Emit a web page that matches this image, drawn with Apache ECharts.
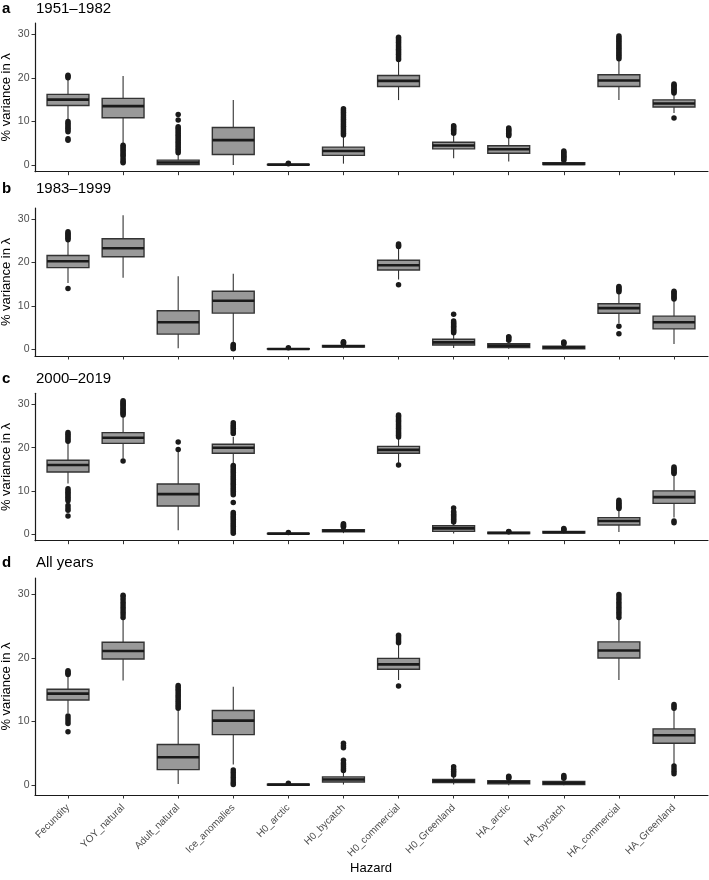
<!DOCTYPE html>
<html><head><meta charset="utf-8">
<script src="https://cdn.jsdelivr.net/npm/echarts@6/dist/echarts.min.js"></script>
<style>html,body{margin:0;padding:0;background:#fff}#c{width:709px;height:880px}</style>
</head><body><div id="c"></div>
<script>
// ---------- DATA ----------
const hazards = ['Fecundity','YOY_natural','Adult_natural','Ice_anomalies','H0_arctic','H0_bycatch','H0_commercial','H0_Greenland','HA_arctic','HA_bycatch','HA_commercial','HA_Greenland'];
const yTicks = [0, 10, 20, 30];
const panelLetters = ['a', 'b', 'c', 'd'];
const panelTitles = ['1951\u20131982', '1983\u20131999', '2000\u20132019', 'All years'];

// box statistics per hazard: [lower whisker, Q1, median, Q3, upper whisker]
const boxA = [
  [10.5, 13.65, 15.0, 16.2, 19.5],
  [4.9, 10.85, 13.5, 15.3, 20.4],
  [0.0, 0.1, 0.55, 1.1, 2.5],
  [0.0, 2.4, 5.7, 8.6, 14.9],
  [0.0, 0.03, 0.08, 0.13, 0.25],
  [0.3, 2.2, 3.2, 4.1, 6.5],
  [14.9, 18.0, 19.3, 20.55, 23.9],
  [1.55, 3.7, 4.45, 5.2, 7.0],
  [0.8, 2.7, 3.6, 4.4, 6.4],
  [0.0, 0.1, 0.25, 0.5, 1.0],
  [14.9, 18.0, 19.4, 20.7, 24.1],
  [11.95, 13.3, 14.1, 14.95, 16.2]
];
const outA = [
  [20.0, 20.3, 20.6, 10.0, 9.6, 9.2, 8.8, 8.4, 8.0, 7.6, 6.0, 5.7],
  [4.5, 4.2, 3.8, 3.4, 3.0, 2.6, 2.2, 1.8, 1.3, 0.8, 0.5],
  [2.8, 3.2, 3.6, 4.0, 4.4, 4.8, 5.2, 5.6, 6.0, 6.4, 6.8, 7.2, 7.6, 8.0, 8.4, 8.8, 10.3, 11.6],
  [],
  [0.3, 0.4],
  [6.9, 7.3, 7.7, 8.1, 8.5, 8.9, 9.3, 9.7, 10.1, 10.5, 10.9, 11.3, 11.7, 12.1, 12.5, 12.9],
  [24.2, 24.6, 25.0, 25.4, 25.8, 26.2, 26.6, 27.0, 27.4, 27.8, 28.2, 28.6, 29.0, 29.3],
  [7.3, 7.6, 7.9, 8.2, 8.5, 8.8, 9.0],
  [6.7, 7.0, 7.3, 7.6, 7.9, 8.2, 8.5],
  [1.1, 1.4, 1.7, 2.0, 2.3, 2.6, 2.9, 3.2],
  [24.4, 24.8, 25.2, 25.6, 26.0, 26.4, 26.8, 27.2, 27.6, 28.0, 28.4, 28.8, 29.2, 29.6],
  [16.5, 16.8, 17.1, 17.4, 17.7, 18.0, 18.3, 18.6, 10.8]
];

const boxB = [
  [15.3, 18.85, 20.3, 21.65, 24.8],
  [16.5, 21.35, 23.3, 25.5, 30.9],
  [0.25, 3.5, 6.25, 8.9, 16.85],
  [1.5, 8.35, 11.2, 13.4, 17.4],
  [0.0, 0.03, 0.08, 0.13, 0.25],
  [0.2, 0.5, 0.7, 0.9, 1.2],
  [16.1, 18.3, 19.4, 20.55, 23.4],
  [0.3, 1.0, 1.6, 2.3, 3.5],
  [0.1, 0.4, 0.85, 1.3, 1.9],
  [0.0, 0.1, 0.4, 0.7, 1.1],
  [6.0, 8.3, 9.5, 10.5, 13.0],
  [1.2, 4.7, 6.25, 7.65, 11.3]
];
const outB = [
  [25.3, 25.6, 25.9, 26.2, 26.5, 26.8, 27.1, 14.05],
  [],
  [],
  [1.1, 0.8, 0.5, 0.3, 0.1],
  [0.35],
  [1.3, 1.45, 1.6, 1.75],
  [23.7, 24.0, 24.3, 14.9],
  [3.8, 4.1, 4.4, 4.7, 5.0, 5.3, 5.6, 5.9, 6.2, 6.5, 8.1],
  [2.1, 2.4, 2.7, 2.9],
  [1.3, 1.5, 1.7],
  [13.3, 13.6, 13.9, 14.2, 14.5, 5.3, 3.6],
  [11.6, 11.9, 12.2, 12.5, 12.8, 13.1, 13.4]
];

const boxC = [
  [11.7, 14.35, 16.0, 17.1, 21.1],
  [17.5, 21.0, 22.3, 23.5, 27.3],
  [0.9, 6.5, 9.25, 11.6, 19.05],
  [16.3, 18.7, 20.0, 20.8, 22.5],
  [0.0, 0.03, 0.08, 0.13, 0.25],
  [0.2, 0.5, 0.75, 1.0, 1.4],
  [16.5, 18.7, 19.5, 20.3, 22.15],
  [0.1, 0.6, 1.3, 1.9, 2.6],
  [0.0, 0.1, 0.25, 0.4, 0.5],
  [0.0, 0.2, 0.4, 0.6, 0.8],
  [0.45, 2.1, 3.0, 3.8, 5.55],
  [3.8, 7.1, 8.55, 10.0, 13.65]
];
const outC = [
  [21.5, 21.9, 22.3, 22.7, 23.1, 23.5, 10.5, 10.1, 9.7, 9.3, 8.9, 8.5, 8.1, 7.7, 6.6, 6.0, 5.5, 4.2],
  [27.6, 27.9, 28.2, 28.5, 28.8, 29.1, 29.4, 29.7, 30.0, 30.3, 30.6, 30.9, 16.9],
  [19.6, 21.3],
  [23.3, 23.7, 24.1, 24.5, 24.9, 25.3, 25.8, 15.9, 15.5, 15.1, 14.7, 14.3, 13.9, 13.5, 13.1, 12.7, 12.3, 11.9, 11.5, 11.1, 10.7, 10.3, 9.9, 9.5, 9.1, 7.3, 5.0, 4.6, 4.2, 3.8, 3.4, 3.0, 2.6, 2.2, 1.8, 1.4, 1.0, 0.6, 0.2],
  [0.35],
  [1.6, 1.8, 2.0, 2.2, 2.4],
  [22.5, 22.9, 23.3, 23.7, 24.1, 24.5, 24.9, 25.3, 25.7, 26.1, 26.5, 26.9, 27.3, 27.6, 16.0],
  [2.8, 3.1, 3.4, 3.7, 4.0, 4.3, 4.6, 4.9, 5.2, 6.0],
  [0.55, 0.6],
  [0.9, 1.1, 1.3],
  [5.9, 6.2, 6.5, 6.8, 7.1, 7.4, 7.8],
  [14.0, 14.3, 14.6, 14.9, 15.2, 15.5, 3.0, 2.6]
];

const boxD = [
  [11.35, 13.4, 14.4, 15.1, 17.2],
  [16.45, 19.85, 21.1, 22.5, 26.0],
  [0.2, 2.45, 4.4, 6.4, 11.8],
  [3.25, 7.95, 10.15, 11.75, 15.5],
  [0.0, 0.03, 0.08, 0.13, 0.25],
  [0.1, 0.5, 0.9, 1.3, 2.1],
  [16.55, 18.25, 19.0, 19.95, 22.05],
  [0.1, 0.4, 0.65, 0.9, 1.4],
  [0.0, 0.2, 0.45, 0.7, 1.0],
  [0.0, 0.1, 0.35, 0.6, 1.0],
  [16.55, 20.0, 21.2, 22.55, 26.0],
  [3.25, 6.6, 7.85, 8.85, 11.85]
];
const outD = [
  [17.4, 17.6, 17.8, 18.0, 10.9, 10.5, 10.1, 9.7, 8.4],
  [26.4, 26.8, 27.2, 27.6, 28.0, 28.4, 28.8, 29.2, 29.6, 29.9],
  [12.1, 12.4, 12.7, 13.0, 13.3, 13.6, 13.9, 14.2, 14.5, 14.8, 15.1, 15.4, 15.7],
  [2.4, 2.0, 1.6, 1.2, 0.8, 0.4, 0.1],
  [0.3],
  [2.3, 2.6, 2.9, 3.2, 3.5, 3.9, 5.9, 6.2, 6.6],
  [22.4, 22.7, 23.0, 23.3, 23.6, 15.6],
  [1.6, 1.9, 2.2, 2.5, 2.9],
  [1.1, 1.25, 1.4],
  [1.1, 1.3, 1.5],
  [26.4, 26.8, 27.2, 27.6, 28.0, 28.4, 28.8, 29.2, 29.6, 30.0],
  [12.1, 12.4, 12.7, 3.0, 2.6, 2.2, 1.8]
];

const panelBoxes = [boxA, boxB, boxC, boxD];
const panelOutliers = [outA, outB, outC, outD];

// ---------- LAYOUT ----------
const FONT = '"Liberation Sans", Arial, Helvetica, sans-serif';
const Y_MIN = -1.55, Y_MAX = 32.6;
const panelTop = [23, 208, 393.3, 578];
const panelHeight = [148.7, 148, 147.4, 217];
const titleTop = [1, 181, 371, 555];
const AXIS_COL = '#1a1a1a';
const TXT_GREY = '#4d4d4d';

function renderBox(params, api) {
  const x = api.value(0);
  const lo = api.coord([x, api.value(1)]);
  const q1 = api.coord([x, api.value(2)]);
  const md = api.coord([x, api.value(3)]);
  const q3 = api.coord([x, api.value(4)]);
  const hi = api.coord([x, api.value(5)]);
  const bw = api.size([1, 0])[0] * 0.76;
  const cx = md[0];
  return {
    type: 'group',
    children: [
      { type: 'line', shape: { x1: cx, y1: hi[1], x2: cx, y2: q3[1] }, style: { stroke: '#333', lineWidth: 1.1 } },
      { type: 'line', shape: { x1: cx, y1: q1[1], x2: cx, y2: lo[1] }, style: { stroke: '#333', lineWidth: 1.1 } },
      { type: 'rect', shape: { x: cx - bw / 2, y: q3[1], width: bw, height: q1[1] - q3[1] }, style: { fill: '#999999', stroke: '#333', lineWidth: 1.4 } },
      { type: 'line', shape: { x1: cx - bw / 2, y1: md[1], x2: cx + bw / 2, y2: md[1] }, style: { stroke: '#1a1a1a', lineWidth: 2.6 } }
    ]
  };
}

const grids = [], xAxes = [], yAxes = [], series = [], titles = [];
for (let p = 0; p < 4; p++) {
  const last = p === 3;
  // decor grid (axis lines spanning ggplot's expanded range)
  grids.push({ left: 35, right: 1, top: panelTop[p], height: panelHeight[p], containLabel: false, outerBoundsMode: 'none' });
  // data grid
  grids.push({ left: 40.45, width: 661.1, top: panelTop[p], height: panelHeight[p], containLabel: false, outerBoundsMode: 'none' });
  const gD = 2 * p, gB = 2 * p + 1;
  xAxes.push({
    gridIndex: gD, type: 'value', min: 0, max: 1,
    axisLine: { show: true, onZero: false, lineStyle: { color: AXIS_COL, width: 1.2 } },
    axisTick: { show: false }, axisLabel: { show: false }, splitLine: { show: false }
  });
  yAxes.push({
    gridIndex: gD, type: 'value', min: Y_MIN, max: Y_MAX,
    axisLine: { show: true, onZero: false, lineStyle: { color: AXIS_COL, width: 1.2 } },
    axisTick: { show: true, length: 3.5, customValues: yTicks, lineStyle: { color: '#333', width: 1 } },
    axisLabel: { show: true, customValues: yTicks, margin: 5.5, fontSize: 10.5, color: TXT_GREY, fontFamily: FONT },
    splitLine: { show: false },
    name: '% variance in \u03bb', nameLocation: 'middle', nameGap: 22, nameRotate: 90, nameMoveOverlap: false,
    nameTextStyle: { fontSize: 13, color: '#000', fontFamily: FONT }
  });
  xAxes.push({
    gridIndex: gB, type: 'category', data: hazards, boundaryGap: true,
    axisLine: { show: false, onZero: false },
    axisTick: { show: true, alignWithLabel: true, length: 3.5, lineStyle: { color: '#333', width: 1 } },
    axisLabel: { show: last, interval: 0, rotate: 45, margin: 11, fontSize: 10, color: TXT_GREY, fontFamily: FONT },
    splitLine: { show: false },
    name: last ? 'Hazard' : '', nameLocation: 'middle', nameGap: 67, nameMoveOverlap: false,
    nameTextStyle: { fontSize: 13, color: '#000', fontFamily: FONT }
  });
  yAxes.push({ gridIndex: gB, type: 'value', min: Y_MIN, max: Y_MAX, show: false });

  series.push({
    type: 'custom', xAxisIndex: 2 * p + 1, yAxisIndex: 2 * p + 1,
    renderItem: renderBox,
    encode: { x: 0, y: [1, 2, 3, 4, 5] },
    data: panelBoxes[p].map((s, i) => [i].concat(s)),
    silent: true, z: 2
  });
  const pts = [];
  panelOutliers[p].forEach((arr, i) => arr.forEach(v => pts.push([i, v])));
  series.push({
    type: 'scatter', xAxisIndex: 2 * p + 1, yAxisIndex: 2 * p + 1,
    data: pts, symbol: 'circle', symbolSize: 5.5,
    itemStyle: { color: '#1a1a1a', opacity: 1 }, silent: true, z: 3
  });

  titles.push({ text: panelLetters[p], left: 2, top: titleTop[p], padding: 0,
    textStyle: { fontSize: 15, fontWeight: 'bold', color: '#000', fontFamily: FONT } });
  titles.push({ text: panelTitles[p], left: 36, top: titleTop[p], padding: 0,
    textStyle: { fontSize: 15, fontWeight: 'normal', color: '#000', fontFamily: FONT } });
}

const chart = echarts.init(document.getElementById('c'), null, { renderer: 'canvas' });
chart.setOption({
  animation: false,
  backgroundColor: '#ffffff',
  textStyle: { fontFamily: FONT },
  title: titles,
  grid: grids,
  xAxis: xAxes,
  yAxis: yAxes,
  series: series
});
</script>
</body></html>
